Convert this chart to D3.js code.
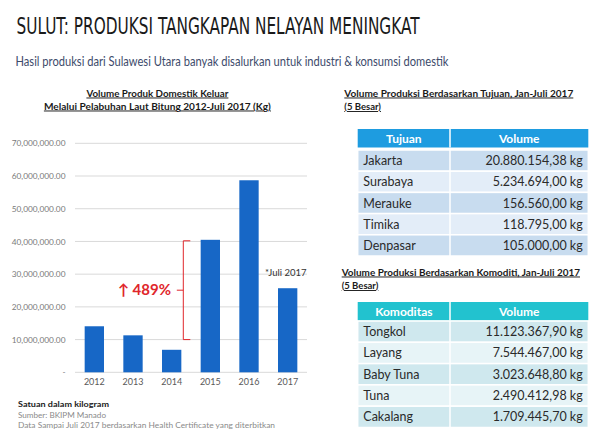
<!DOCTYPE html>
<html><head><meta charset="utf-8">
<script src="https://cdn.jsdelivr.net/npm/d3@7"></script>
<style>
html,body{margin:0;padding:0;background:#fff;}
svg{display:block;}
</style></head>
<body>
<svg id="c" width="600" height="444"></svg>
<script>
// ---- Data ----
const years = ["2012","2013","2014","2015","2016","2017"];
const volumes = [14070000, 11300000, 6880000, 40500000, 58700000, 25700000];
const yTicks = [0,10000000,20000000,30000000,40000000,50000000,60000000,70000000];
const growthLabel = "489%";

const tujuanNames = ["Jakarta","Surabaya","Merauke","Timika","Denpasar"];
const tujuanVolumes = ["20.880.154,38 kg","5.234.694,00 kg","156.560,00 kg","118.795,00 kg","105.000,00 kg"];
const komoditasNames = ["Tongkol","Layang","Baby Tuna","Tuna","Cakalang"];
const komoditasVolumes = ["11.123.367,90 kg","7.544.467,00 kg","3.023.648,80 kg","2.490.412,98 kg","1.709.445,70 kg"];

const svg = d3.select("#c");
const FONT = "Lato, 'Open Sans', sans-serif";

// ---- Headings ----
svg.append("text").attr("x",16.5).attr("y",33.5)
  .attr("font-family","'DejaVu Sans Condensed','DejaVu Sans',sans-serif")
  .attr("font-size",23).attr("fill","#1a1a1a")
  .attr("textLength",403).attr("lengthAdjust","spacingAndGlyphs")
  .text("SULUT: PRODUKSI TANGKAPAN NELAYAN MENINGKAT");

svg.append("text").attr("x",15.5).attr("y",66)
  .attr("font-family",FONT).attr("font-size",13.5).attr("fill","#3d4b6b")
  .attr("textLength",433).attr("lengthAdjust","spacingAndGlyphs")
  .text("Hasil produksi dari Sulawesi Utara banyak disalurkan untuk industri & konsumsi domestik");

// ---- Bar chart ----
const x = d3.scaleBand().domain(years).range([75,307]).paddingInner(0.5).paddingOuter(0.25);
const y = d3.scaleLinear().domain([0,70000000]).range([372.3,143.3]);

// chart title
const ct = [["Volume Produk Domestik Keluar",96.5,142],["Melalui Pelabuhan Laut Bitung 2012-Juli 2017 (Kg)",109.5,227]];
ct.forEach(([t,yy,w])=>{
  svg.append("text").attr("x",157.4).attr("y",yy).attr("text-anchor","middle")
    .attr("font-family",FONT).attr("font-weight","bold").attr("font-size",9.5)
    .attr("fill","#1a1a1a").attr("text-decoration","underline")
    .attr("textLength",w).attr("lengthAdjust","spacingAndGlyphs").text(t);
});

// gridlines
svg.append("g").selectAll("line").data(yTicks.filter(d=>d>0)).join("line")
  .attr("x1",75).attr("x2",307).attr("y1",d=>y(d)).attr("y2",d=>y(d))
  .attr("stroke","#d9d9d9").attr("stroke-width",1);
svg.append("line").attr("x1",75).attr("x2",307).attr("y1",y(0)).attr("y2",y(0))
  .attr("stroke","#d9d9d9").attr("stroke-width",1);

// y axis
const yAxis = d3.axisLeft(y).tickValues(yTicks).tickSize(0).tickPadding(9.5)
  .tickFormat(d=> d===0 ? "-" : d3.format(",.2f")(d));
const gy = svg.append("g").attr("transform","translate(75,0)").call(yAxis);
gy.select(".domain").remove();
gy.selectAll("text").attr("font-family",FONT).attr("font-size",8.3).attr("fill","#7a7a7a");

// x axis
const xAxis = d3.axisBottom(x).tickSize(0).tickPadding(6);
const gx = svg.append("g").attr("transform",`translate(0,${y(0)})`).call(xAxis);
gx.select(".domain").remove();
gx.selectAll("text").attr("font-family",FONT).attr("font-size",9).attr("fill","#595959");

// bars
svg.append("g").selectAll("rect").data(years).join("rect")
  .attr("x",d=>x(d)).attr("width",x.bandwidth())
  .attr("y",(d,i)=>y(volumes[i])).attr("height",(d,i)=>y(0)-y(volumes[i]))
  .attr("fill","#1767c6");

// annotation bracket 2014 -> 2015
const bx = 183.3;
const bTop = y(volumes[3]) + 1, bBot = y(10000000);
const bMid = (bTop+bBot)/2;
svg.append("path")
  .attr("d",`M${bx+7},${bTop} L${bx},${bTop} L${bx},${bBot} L${bx+7},${bBot} M${bx},${bMid} L${bx-6.5},${bMid}`)
  .attr("fill","none").attr("stroke","#e0262b").attr("stroke-width",1);
svg.append("text").attr("x",171).attr("y",bMid+5).attr("text-anchor","end")
  .attr("font-family",FONT).attr("font-weight","bold").attr("font-size",15).attr("fill","#e0262b")
  .text("\u2191 " + growthLabel);

svg.append("text").attr("x",306.5).attr("y",275.5).attr("text-anchor","end")
  .attr("font-family",FONT).attr("font-size",9.5).attr("fill","#333")
  .text("*Juli 2017");

// footnotes
svg.append("text").attr("x",18).attr("y",407).attr("font-family",FONT).attr("font-weight","bold")
  .attr("font-size",8).attr("fill","#1a1a1a").attr("textLength",91).attr("lengthAdjust","spacingAndGlyphs")
  .text("Satuan dalam kilogram");
svg.append("text").attr("x",18).attr("y",417.5).attr("font-family",FONT)
  .attr("font-size",8).attr("fill","#8a8a8a").attr("textLength",88).attr("lengthAdjust","spacingAndGlyphs")
  .text("Sumber: BKIPM Manado");
svg.append("text").attr("x",18).attr("y",427.5).attr("font-family",FONT)
  .attr("font-size",8).attr("fill","#8a8a8a").attr("textLength",257).attr("lengthAdjust","spacingAndGlyphs")
  .text("Data Sampai Juli 2017 berdasarkan Health Certificate yang diterbitkan");

// ---- Tables ----
function table(cfg){
  const g = svg.append("g");
  g.append("text").attr("x",cfg.tx).attr("y",cfg.ty).attr("font-family",FONT).attr("font-weight","bold")
    .attr("font-size",9.5).attr("fill","#1a1a1a").attr("text-decoration","underline")
    .attr("textLength",cfg.tw).attr("lengthAdjust","spacingAndGlyphs").text(cfg.title);
  g.append("text").attr("x",cfg.tx).attr("y",cfg.ty+13.5).attr("font-family",FONT).attr("font-weight","bold")
    .attr("font-size",9.5).attr("fill","#1a1a1a").attr("text-decoration","underline")
    .text("(5 Besar)");
  const x0=357.7, xm=450, x1=588.3;
  // header
  g.append("rect").attr("x",x0).attr("y",cfg.hy).attr("width",x1-x0).attr("height",cfg.hh).attr("fill",cfg.hc);
  g.append("line").attr("x1",xm).attr("x2",xm).attr("y1",cfg.hy).attr("y2",cfg.hy+cfg.hh).attr("stroke","#fff").attr("stroke-width",1.5);
  [[cfg.h1,(x0+xm)/2],["Volume",(xm+x1)/2]].forEach(([t,cx])=>{
    g.append("text").attr("x",cx).attr("y",cfg.hy+cfg.hh/2+4.3).attr("text-anchor","middle")
      .attr("font-family",FONT).attr("font-weight","bold").attr("font-size",12).attr("fill","#fff").text(t);
  });
  const rowY = d3.scaleBand().domain(d3.range(cfg.names.length)).range([cfg.ry, cfg.ry+cfg.rh*cfg.names.length]);
  const rows = g.selectAll("g.row").data(cfg.names).join("g").attr("class","row");
  rows.append("rect").attr("x",x0).attr("y",(d,i)=>rowY(i)).attr("width",x1-x0).attr("height",rowY.bandwidth())
    .attr("fill",(d,i)=> i%2===0 ? cfg.c1 : cfg.c2).attr("stroke","#fff").attr("stroke-width",1.5);
  rows.append("line").attr("x1",xm).attr("x2",xm).attr("y1",(d,i)=>rowY(i)).attr("y2",(d,i)=>rowY(i)+rowY.bandwidth())
    .attr("stroke","#fff").attr("stroke-width",1.5);
  rows.append("text").attr("x",363.3).attr("y",(d,i)=>rowY(i)+rowY.bandwidth()/2+4.5)
    .attr("font-family",FONT).attr("font-size",12.5).attr("fill","#2a2a2a").text(d=>d);
  rows.append("text").attr("x",582.7).attr("y",(d,i)=>rowY(i)+rowY.bandwidth()/2+4.5).attr("text-anchor","end")
    .attr("font-family",FONT).attr("font-size",12.5).attr("fill","#2a2a2a").text((d,i)=>cfg.vals[i]);
}
table({title:"Volume Produksi Berdasarkan Tujuan, Jan-Juli 2017", tx:344.3, ty:96.5, tw:229,
  hy:129, hh:18.5, h1:"Tujuan", hc:"#1e9ce0", ry:150, rh:21.2, c1:"#c8dcef", c2:"#e3edf8",
  names:tujuanNames, vals:tujuanVolumes});
table({title:"Volume Produksi Berdasarkan Komoditi, Jan-Juli 2017", tx:341.7, ty:275.5, tw:238.3,
  hy:302, hh:18.5, h1:"Komoditas", hc:"#22c2cf", ry:321, rh:21.3, c1:"#cfe8ee", c2:"#e7f4f7",
  names:komoditasNames, vals:komoditasVolumes});
</script>
</body></html>
